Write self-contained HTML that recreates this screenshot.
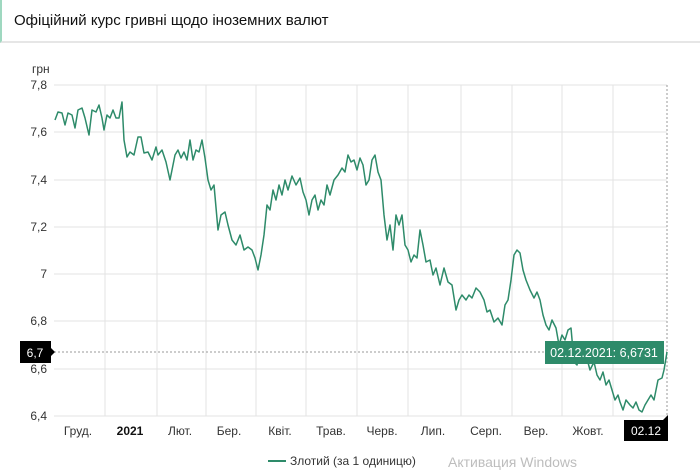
<!DOCTYPE html>
<html><head><meta charset="utf-8"><style>
body{margin:0;width:700px;height:474px;background:#fff;overflow:hidden;font-family:"Liberation Sans",sans-serif}
.hdr{position:absolute;left:0;top:0;width:700px;height:43px;background:#fff;border-bottom:2px solid #e6e6e6;border-left:2px solid #9fd8c0;box-sizing:border-box}
.hdr span{position:absolute;left:12px;top:12px;font-size:15px;color:#111}
</style></head><body>
<div class="hdr"><span>Офіційний курс гривні щодо іноземних валют</span></div>
<svg width="700" height="474" style="position:absolute;left:0;top:0" font-family="Liberation Sans, sans-serif">
<g stroke="#e3e3e3" stroke-width="1">
<line x1="54" y1="85" x2="667" y2="85"/><line x1="54" y1="132" x2="667" y2="132"/><line x1="54" y1="180" x2="667" y2="180"/><line x1="54" y1="227" x2="667" y2="227"/><line x1="54" y1="274" x2="667" y2="274"/><line x1="54" y1="321" x2="667" y2="321"/><line x1="54" y1="369" x2="667" y2="369"/><line x1="54" y1="416" x2="667" y2="416"/>
<line x1="105" y1="85" x2="105" y2="416"/><line x1="157" y1="85" x2="157" y2="416"/><line x1="206" y1="85" x2="206" y2="416"/><line x1="256" y1="85" x2="256" y2="416"/><line x1="306" y1="85" x2="306" y2="416"/><line x1="357" y1="85" x2="357" y2="416"/><line x1="408" y1="85" x2="408" y2="416"/><line x1="461" y1="85" x2="461" y2="416"/><line x1="512" y1="85" x2="512" y2="416"/><line x1="562" y1="85" x2="562" y2="416"/><line x1="613" y1="85" x2="613" y2="416"/>
</g>
<line x1="54" y1="352" x2="667" y2="352" stroke="#999" stroke-dasharray="2,2"/>
<line x1="667" y1="85" x2="667" y2="416" stroke="#999" stroke-dasharray="2,2"/>
<g font-size="12" fill="#333" text-anchor="end">
<text x="46" y="73" text-anchor="start" x2="0" dx="-14">грн</text>
<text x="47" y="89">7,8</text><text x="47" y="136">7,6</text><text x="47" y="184">7,4</text><text x="47" y="231">7,2</text><text x="47" y="278">7</text><text x="47" y="325">6,8</text><text x="47" y="373">6,6</text><text x="47" y="420">6,4</text>
</g>
<g font-size="12" fill="#333" text-anchor="middle">
<text x="78" y="435">Груд.</text><text x="130" y="435" font-weight="bold" fill="#111">2021</text><text x="180" y="435">Лют.</text><text x="229" y="435">Бер.</text><text x="280" y="435">Квіт.</text><text x="331" y="435">Трав.</text><text x="382" y="435">Черв.</text><text x="433" y="435">Лип.</text><text x="486" y="435">Серп.</text><text x="536" y="435">Вер.</text><text x="588" y="435">Жовт.</text>
</g>
<polyline fill="none" stroke="#2e8b6a" stroke-width="1.5" stroke-linejoin="round" points="55,120 58,112 62,113 65,125 68,113 72,115 75,128 78,110 82,108 85,118 89,135 92,110 96,112 99,105 102,118 104,130 107,115 110,118 113,110 116,118 119,118 122,102 124,140 127,157 130,152 134,155 138,137 141,137 144,153 148,152 152,160 156,147 158,155 162,150 166,162 170,180 172,170 175,155 178,150 181,158 184,152 187,160 190,140 193,160 196,150 199,152 202,140 205,158 208,180 211,190 214,185 218,230 221,215 225,212 228,225 232,240 236,245 240,235 244,250 248,247 252,250 255,258 258,270 261,255 264,235 267,205 270,210 273,190 276,200 279,185 282,195 285,180 288,190 292,176 296,185 300,178 303,192 306,200 309,215 312,200 315,195 318,210 321,200 324,205 327,185 330,195 334,180 338,175 342,168 345,172 348,155 351,162 354,160 357,170 360,158 363,165 366,185 369,180 372,160 375,155 378,172 381,180 384,215 387,240 390,225 393,250 396,215 399,225 402,215 405,245 408,250 411,262 414,255 417,258 420,230 423,245 426,262 430,260 433,275 436,268 440,285 444,268 448,282 452,285 456,310 459,300 462,295 466,300 469,295 472,298 476,288 480,292 484,300 487,312 490,310 494,322 498,318 502,325 505,305 508,300 511,280 514,255 517,250 520,253 523,270 526,280 530,290 534,298 537,292 540,300 543,315 546,325 549,330 552,320 556,328 559,345 562,335 565,340 568,330 571,328 574,362 577,365 580,352 583,360 586,355 590,370 594,362 597,375 600,380 603,372 606,385 609,380 612,390 615,400 618,395 620,402 623,410 626,400 630,405 633,408 636,402 639,410 642,412 645,405 648,400 651,395 654,400 658,380 662,378 664,370 667,352"/>
<rect x="545" y="341" width="119" height="23" fill="#2e8b6a"/>
<text x="604" y="357" font-size="12.5" fill="#fff" text-anchor="middle">02.12.2021: 6,6731</text>
<rect x="20" y="341" width="31" height="22" fill="#000"/>
<polygon points="51,348 55,352 51,356" fill="#000"/>
<text x="35" y="357" font-size="12" fill="#fff" text-anchor="middle">6,7</text>
<rect x="624" y="420" width="44" height="21" fill="#000"/>
<polygon points="663,420 668,415 668,420" fill="#000"/>
<text x="646" y="435" font-size="12" fill="#fff" text-anchor="middle">02.12</text>
<line x1="268" y1="461" x2="286" y2="461" stroke="#2e8b6a" stroke-width="2"/>
<text x="290" y="465" font-size="12" fill="#333">Злотий (за 1 одиницю)</text>
<text x="448" y="467" font-size="14" fill="#bdbdbd">Активация Windows</text>
</svg>
</body></html>
